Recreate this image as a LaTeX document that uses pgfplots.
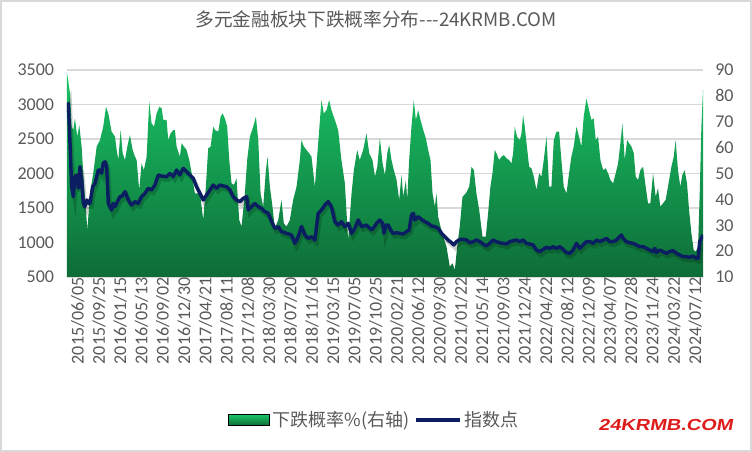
\documentclass[border=0pt]{standalone}
\usepackage{fontspec}
\setmainfont{Carlito}
\newfontfamily\cjk{Noto Sans CJK SC}
\newfontfamily\wm{Liberation Sans}[FakeStretch=1.25,FakeSlant=0.18]
\usepackage{pgfplots}
\pgfplotsset{compat=1.18}
\definecolor{textgray}{HTML}{595959}
\definecolor{gridgray}{HTML}{D9D9D9}
\definecolor{greentop}{RGB}{25,196,102}
\definecolor{greenbot}{RGB}{14,108,55}
\definecolor{navy}{RGB}{12,30,98}
\definecolor{wmred}{RGB}{222,28,28}
\begin{document}
\begin{tikzpicture}
\path[use as bounding box] (-50.25pt,-131.25pt) rectangle (513.75pt,207.75pt);
\draw[gridgray, line width=1.6pt] (-49.45pt,-130.45pt) rectangle (512.95pt,206.95pt);
\pgfplotsset{
  common/.style={
    at={(0pt,0pt)}, anchor=south west,
    scale only axis, width=477pt, height=155.25pt,
    xmin=0, xmax=464.9,
    major tick length=0pt,
    axis line style={draw=none},
    clip=true,
    /pgf/number format/assume math mode=true,
    /pgf/number format/1000 sep={},
    ticklabel style={font=\fontsize{13.5}{16}\selectfont, text=textgray},
  }
}
% Axis A: left axis, grid and x labels
\begin{axis}[common,
  ymin=500, ymax=3500, ytick={500,1000,...,3500},
  ymajorgrids, grid style={gridgray, line width=1.3pt},
  yticklabel style={inner sep=0pt, anchor=east, xshift=-9.5pt},
  xtick={0,15.565,31.13,46.70,62.26,77.83,93.39,108.96,124.52,140.09,155.65,171.22,186.78,202.35,217.91,233.48,249.04,264.61,280.17,295.74,311.30,326.87,342.43,358.00,373.56,389.13,404.69,420.26,435.82,451.39},
  xticklabels={2015/06/05,2015/09/25,2016/01/15,2016/05/13,2016/09/02,2016/12/30,2017/04/21,2017/08/11,2017/12/08,2018/03/30,2018/07/20,2018/11/16,2019/03/15,2019/07/05,2019/10/25,2020/02/21,2020/06/12,2020/09/30,2021/01/22,2021/05/14,2021/09/03,2021/12/24,2022/04/22,2022/08/12,2022/12/09,2023/04/07,2023/07/28,2023/11/24,2024/03/22,2024/07/12},
  xticklabel style={rotate=90, anchor=east, inner sep=0pt, yshift=-8pt},
  title={\cjk 多元金融板块下跌概率分布---24KRMB.COM},
  title style={at={(axis description cs:0.486,1.208)}, anchor=center, font=\fontsize{14}{17}\selectfont, text=textgray},
]
\end{axis}
% Axis B: right axis, area
\begin{axis}[common,
  ymin=10, ymax=90, ytick={10,20,...,90},
  yticklabel pos=right,
  yticklabel style={inner sep=0pt, anchor=west, xshift=9pt},
  xtick=\empty,
]
\addplot[draw=none, top color=greentop, bottom color=greenbot] coordinates {
(0,10) (0,89) (2.2,81) (3.4,68.1) (4.6,66.8) (5.8,71.3) (7.5,64.2) (9.0,68.7) (10.7,60.4) (11.9,50.1) (13.1,41.0) (14.9,28.2) (16.8,42.3) (19.2,50.1) (21.7,60.4) (24.1,62.9) (26.5,68.1) (28.5,75.8) (30.2,73.2) (32.6,66.2) (35.1,64.2) (36.3,59.1) (37.5,55.2) (39.2,66.8) (40.7,57.8) (42.4,55.2) (44.1,60.4) (46.0,64.9) (48.0,59.1) (49.7,56.5) (50.9,55.2) (52.8,43.6) (54.5,53.9) (56.2,51.3) (58.2,56.5) (60.1,77.8) (61.8,69.4) (63.6,68.1) (65.5,73.2) (67.5,75.8) (69.2,75.2) (70.4,70.7) (72.8,70.7) (74.0,62.9) (75.7,65.5) (77.7,66.8) (78.9,66.8) (80.1,60.4) (82.5,56.5) (83.8,61.7) (85.5,60.4) (87.4,59.1) (89.4,55.2) (91.1,50.1) (93.5,42.3) (97.2,42.3) (99.6,32.0) (101.5,44.9) (103.2,59.7) (105.0,60.4) (106.9,68.1) (108.1,66.8) (110.6,66.2) (112.3,72.0) (113.7,73.2) (115.4,71.3) (117.1,68.1) (118.6,55.2) (120.3,46.2) (122.0,45.6) (123.9,48.1) (125.9,32.0) (127.6,29.5) (130.0,42.3) (131.7,55.2) (133.7,64.2) (136.1,68.1) (138.1,72.0) (139.8,62.9) (141.5,42.3) (143.4,37.2) (145.4,51.3) (146.6,56.5) (148.3,44.9) (150.2,37.2) (151.9,28.8) (154.4,32.0) (156.8,39.8) (158.5,30.7) (160.5,29.5) (162.9,32.0) (165.3,39.8) (167.8,44.9) (170.2,55.2) (171.4,62.9) (173.1,60.4) (175.1,59.1) (177.0,57.8) (178.7,56.5) (181.2,44.9) (183.6,61.7) (186.0,78.4) (187.7,73.2) (189.7,74.5) (191.6,78.4) (193.3,74.5) (195.8,70.7) (198.2,66.8) (200.6,55.2) (203.1,46.2) (205.5,24.3) (208.0,42.3) (209.7,51.3) (212.1,59.1) (214.0,55.2) (216.5,59.1) (218.9,65.5) (220.9,57.8) (223.3,55.2) (225.1,48.8) (226.8,52.6) (228.7,63.6) (230.7,53.9) (232.4,49.4) (234.1,57.8) (235.5,61.0) (237.2,55.2) (238.9,51.3) (240.9,47.5) (242.8,39.8) (244.5,49.4) (245.8,41.0) (247.7,47.5) (248.7,39.8) (250.1,55.2) (251.8,68.1) (253.5,78.4) (255.0,70.7) (256.7,74.5) (258.4,70.7) (260.4,66.8) (262.3,63.6) (264.0,59.1) (265.7,55.2) (267.2,42.3) (268.9,37.2) (270.1,42.3) (271.3,33.3) (273.0,29.5) (275.0,25.6) (277.4,21.7) (279.8,14.0) (281.8,15.3) (283.5,12.7) (285.2,21.7) (287.1,29.5) (289.1,41.0) (291.5,42.3) (294.0,44.9) (295.7,52.6) (297.4,51.3) (299.3,42.3) (301.3,35.9) (303.7,25.6) (306.1,25.6) (307.8,34.6) (309.5,44.9) (311.0,50.1) (312.7,59.1) (313.9,57.8) (315.9,55.2) (317.6,56.5) (319.3,57.1) (321.2,55.9) (323.2,55.2) (324.9,53.9) (326.1,57.8) (327.3,68.1) (329.0,64.2) (331.0,62.9) (332.2,65.5) (333.4,72.6) (334.6,68.1) (335.9,61.7) (337.8,52.6) (339.5,52.0) (341.2,48.8) (343.2,43.6) (345.1,50.1) (346.8,48.8) (348.5,55.2) (350.5,64.2) (352.4,44.9) (354.1,44.9) (355.8,62.9) (357.8,66.2) (359.7,66.2) (361.4,55.2) (363.1,44.9) (365.1,42.3) (367.0,50.1) (368.7,56.5) (370.4,60.4) (372.4,68.1) (374.3,64.2) (376.0,60.4) (377.7,72.0) (379.7,79.0) (381.6,74.5) (383.3,70.7) (385.0,71.3) (386.5,62.9) (388.2,64.2) (389.9,55.2) (391.9,51.3) (393.8,52.0) (395.5,50.1) (397.2,47.5) (399.2,46.2) (401.1,50.1) (402.8,53.9) (404.5,61.7) (406.0,69.4) (407.7,55.2) (409.4,62.9) (410.9,61.7) (412.6,60.4) (414.3,57.8) (415.7,48.8) (417.4,47.5) (419.1,51.3) (421.1,52.6) (423.0,44.9) (424.7,38.5) (426.4,38.5) (428.4,50.1) (430.3,41.0) (432.0,44.3) (433.7,37.2) (435.7,38.5) (437.6,39.8) (439.3,44.9) (441.8,52.6) (443.5,56.5) (444.9,62.9) (446.6,51.3) (448.3,44.9) (449.8,49.4) (451.5,51.3) (453.2,46.2) (454.7,35.9) (456.4,26.9) (458.1,20.4) (459.6,19.8) (461.3,21.7) (462.5,42.3) (463.7,68.1) (464.9,82.3) (464.9,10)
};
\end{axis}
% Axis C: index line and legend
\begin{axis}[common,
  ymin=500, ymax=3500,
  hide x axis, hide y axis,
  legend style={at={(axis description cs:0.484,-0.691)}, anchor=center, draw=none, fill=none,
    legend columns=-1, font=\cjk\fontsize{13.5}{16}\selectfont, text=textgray,
    /tikz/every even column/.append style={column sep=2pt}, inner sep=0pt},
]
\addlegendimage{legend image code/.code={\fill[top color=greentop, bottom color=greenbot] (0pt,-4pt) rectangle (31pt,4pt);}}
\addlegendentry{下跌概率\%(右轴)}
\addlegendimage{legend image code/.code={\draw[navy, line width=2.6pt] (0pt,0pt) -- (33pt,0pt);}}
\addlegendentry{指数点}
\addplot[black, opacity=0.18, line width=3.2pt, xshift=1.2pt, yshift=-2.4pt, forget plot] coordinates {
(0,2920) (1.0,3016) (2.2,2437) (3.4,1809) (4.6,1664) (5.8,1954) (7.1,1978) (8.3,1785) (9.5,2099) (10.7,1906) (11.9,1567) (13.1,1519) (14.4,1616) (15.6,1567) (16.8,1567) (18.8,1809) (20.5,1857) (22.9,2050) (24.1,2050) (25.3,2002) (26.5,2147) (27.8,2171) (29.0,2099) (30.2,1567) (32.6,1471) (33.8,1567) (35.1,1519) (37.5,1616) (38.7,1664) (39.9,1664) (42.4,1736) (44.8,1616) (47.2,1543) (49.7,1592) (52.1,1567) (54.5,1664) (57.0,1712) (59.4,1785) (61.8,1761) (64.3,1833) (66.7,1978) (69.2,1963) (72.8,1954) (75.2,2002) (77.7,1954) (80.1,2050) (82.5,1978) (85.0,2075) (87.4,2026) (89.9,1978) (92.3,1930) (94.7,1809) (97.2,1712) (99.6,1616) (102.0,1688) (104.5,1761) (106.9,1833) (109.3,1785) (111.8,1833) (114.2,1819) (116.6,1809) (119.1,1761) (121.5,1664) (124.0,1616) (126.4,1592) (128.8,1640) (131.3,1664) (132.5,1471) (134.9,1519) (137.3,1567) (139.8,1519) (142.2,1495) (144.7,1447) (147.1,1423) (149.5,1302) (152.0,1205) (154.4,1229) (156.8,1157) (160.5,1133) (164.1,1109) (166.6,988) (169.0,1084) (171.4,1229) (173.9,1109) (176.3,1060) (178.7,1084) (181.2,1036) (183.6,1423) (186.0,1471) (188.5,1543) (190.9,1592) (193.3,1519) (195.8,1302) (198.2,1253) (200.6,1302) (203.1,1229) (205.5,1278) (208.0,1133) (210.4,1205) (212.8,1326) (215.3,1229) (218.9,1253) (222.6,1181) (223.8,1205) (226.3,1278) (228.7,1326) (230.7,1278) (231.6,1133) (233.1,1253) (234.8,1253) (236.5,1181) (238.4,1133) (240.9,1142) (243.3,1133) (245.8,1123) (248.2,1157) (250.1,1181) (251.8,1398) (253.1,1423) (254.3,1326) (256.7,1374) (259.1,1336) (261.6,1302) (264.0,1278) (266.4,1239) (268.9,1229) (271.3,1205) (273.8,1133) (276.2,1084) (278.6,1036) (281.1,997) (282.8,964) (284.7,1012) (287.1,1046) (289.6,1046) (292.0,1036) (294.5,997) (296.9,1012) (299.3,1036) (301.8,1012) (304.2,978) (306.6,949) (309.1,988) (311.5,1036) (313.9,1012) (316.4,997) (318.8,988) (321.2,978) (323.7,1012) (326.1,1026) (328.5,1036) (331.0,1012) (333.4,1036) (335.9,988) (338.3,978) (340.7,964) (343.2,891) (345.6,867) (348.0,901) (350.5,930) (352.9,915) (355.3,940) (357.8,915) (360.2,940) (362.6,901) (365.1,853) (367.5,843) (369.9,891) (372.4,988) (374.8,915) (377.2,964) (379.7,1012) (382.1,1012) (384.6,988) (387.0,1036) (389.4,1012) (391.9,1036) (394.3,1060) (396.7,1012) (399.2,1012) (401.6,1036) (404.0,1084) (405.2,1109) (406.5,1060) (408.9,1012) (411.3,997) (413.8,988) (416.2,964) (418.6,940) (421.1,940) (423.5,915) (425.9,891) (428.4,867) (429.6,915) (430.8,853) (433.3,891) (435.7,867) (438.1,843) (440.6,867) (443.0,882) (445.4,843) (447.9,819) (450.3,795) (452.7,795) (455.2,785) (457.6,804) (460.0,770) (461.3,770) (462.5,1012) (464.9,1109)
};
\addplot[navy, line width=2.6pt, line join=round, forget plot] coordinates {
(0,2920) (1.0,3016) (2.2,2437) (3.4,1809) (4.6,1664) (5.8,1954) (7.1,1978) (8.3,1785) (9.5,2099) (10.7,1906) (11.9,1567) (13.1,1519) (14.4,1616) (15.6,1567) (16.8,1567) (18.8,1809) (20.5,1857) (22.9,2050) (24.1,2050) (25.3,2002) (26.5,2147) (27.8,2171) (29.0,2099) (30.2,1567) (32.6,1471) (33.8,1567) (35.1,1519) (37.5,1616) (38.7,1664) (39.9,1664) (42.4,1736) (44.8,1616) (47.2,1543) (49.7,1592) (52.1,1567) (54.5,1664) (57.0,1712) (59.4,1785) (61.8,1761) (64.3,1833) (66.7,1978) (69.2,1963) (72.8,1954) (75.2,2002) (77.7,1954) (80.1,2050) (82.5,1978) (85.0,2075) (87.4,2026) (89.9,1978) (92.3,1930) (94.7,1809) (97.2,1712) (99.6,1616) (102.0,1688) (104.5,1761) (106.9,1833) (109.3,1785) (111.8,1833) (114.2,1819) (116.6,1809) (119.1,1761) (121.5,1664) (124.0,1616) (126.4,1592) (128.8,1640) (131.3,1664) (132.5,1471) (134.9,1519) (137.3,1567) (139.8,1519) (142.2,1495) (144.7,1447) (147.1,1423) (149.5,1302) (152.0,1205) (154.4,1229) (156.8,1157) (160.5,1133) (164.1,1109) (166.6,988) (169.0,1084) (171.4,1229) (173.9,1109) (176.3,1060) (178.7,1084) (181.2,1036) (183.6,1423) (186.0,1471) (188.5,1543) (190.9,1592) (193.3,1519) (195.8,1302) (198.2,1253) (200.6,1302) (203.1,1229) (205.5,1278) (208.0,1133) (210.4,1205) (212.8,1326) (215.3,1229) (218.9,1253) (222.6,1181) (223.8,1205) (226.3,1278) (228.7,1326) (230.7,1278) (231.6,1133) (233.1,1253) (234.8,1253) (236.5,1181) (238.4,1133) (240.9,1142) (243.3,1133) (245.8,1123) (248.2,1157) (250.1,1181) (251.8,1398) (253.1,1423) (254.3,1326) (256.7,1374) (259.1,1336) (261.6,1302) (264.0,1278) (266.4,1239) (268.9,1229) (271.3,1205) (273.8,1133) (276.2,1084) (278.6,1036) (281.1,997) (282.8,964) (284.7,1012) (287.1,1046) (289.6,1046) (292.0,1036) (294.5,997) (296.9,1012) (299.3,1036) (301.8,1012) (304.2,978) (306.6,949) (309.1,988) (311.5,1036) (313.9,1012) (316.4,997) (318.8,988) (321.2,978) (323.7,1012) (326.1,1026) (328.5,1036) (331.0,1012) (333.4,1036) (335.9,988) (338.3,978) (340.7,964) (343.2,891) (345.6,867) (348.0,901) (350.5,930) (352.9,915) (355.3,940) (357.8,915) (360.2,940) (362.6,901) (365.1,853) (367.5,843) (369.9,891) (372.4,988) (374.8,915) (377.2,964) (379.7,1012) (382.1,1012) (384.6,988) (387.0,1036) (389.4,1012) (391.9,1036) (394.3,1060) (396.7,1012) (399.2,1012) (401.6,1036) (404.0,1084) (405.2,1109) (406.5,1060) (408.9,1012) (411.3,997) (413.8,988) (416.2,964) (418.6,940) (421.1,940) (423.5,915) (425.9,891) (428.4,867) (429.6,915) (430.8,853) (433.3,891) (435.7,867) (438.1,843) (440.6,867) (443.0,882) (445.4,843) (447.9,819) (450.3,795) (452.7,795) (455.2,785) (457.6,804) (460.0,770) (461.3,770) (462.5,1012) (464.9,1109)
};
\end{axis}
\node[font=\wm\bfseries\fontsize{12}{14}\selectfont, text=wmred] at (449pt,-111pt) {24KRMB.COM};
\end{tikzpicture}
\end{document}
